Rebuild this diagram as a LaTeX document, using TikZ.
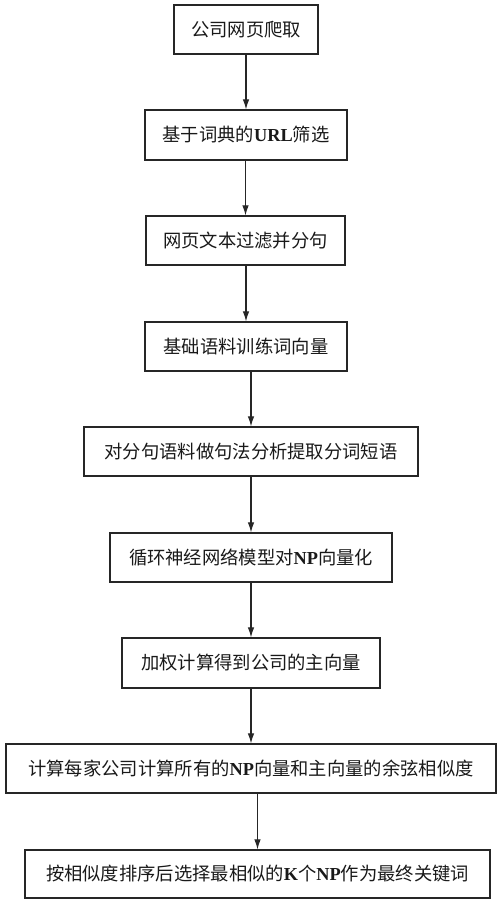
\documentclass[tikz,border=0pt]{standalone}
\usepackage{fontspec}
\setmainfont{Noto Sans CJK SC}
\newfontfamily\latn{Liberation Serif}
\usetikzlibrary{arrows.meta}
\begin{document}
\begin{tikzpicture}[x=1pt,y=-1pt,
  stepbox/.style={draw=black!85,line width=1.2pt,inner sep=0pt,font=\fontsize{18.3pt}{20pt}\selectfont,text=black!90},
  arr/.style={draw=black!85,line width=1.1pt,-{Latex[length=10pt,width=6.5pt]}}]
\useasboundingbox (0,0) rectangle (500,904);
\node[stepbox,minimum width=144pt,minimum height=49pt] (b1) at (246,29.5) {公司网页爬取};
\node[stepbox,minimum width=202pt,minimum height=50pt] (b2) at (246,135) {基于词典的{\latn\bfseries URL}筛选};
\node[stepbox,minimum width=199pt,minimum height=49pt] (b3) at (245.5,240.5) {网页文本过滤并分句};
\node[stepbox,minimum width=202pt,minimum height=49pt] (b4) at (246,346.5) {基础语料训练词向量};
\node[stepbox,minimum width=334pt,minimum height=49pt] (b5) at (251,451.5) {对分句语料做句法分析提取分词短语};
\node[stepbox,minimum width=282pt,minimum height=49pt] (b6) at (251,557.5) {循环神经网络模型对{\latn\bfseries NP}向量化};
\node[stepbox,minimum width=258pt,minimum height=50pt] (b7) at (251,663) {加权计算得到公司的主向量};
\node[stepbox,minimum width=490pt,minimum height=49pt] (b8) at (251,768.5) {计算每家公司计算所有的{\latn\bfseries NP}向量和主向量的余弦相似度};
\node[stepbox,minimum width=465pt,minimum height=48pt] (b9) at (257.5,874) {按相似度排序后选择最相似的{\latn\bfseries K}个{\latn\bfseries NP}作为最终关键词};
\draw[arr] (b1.south -| b2.north) -- (b2.north);
\draw[arr] (b2.south -| b3.north) -- (b3.north);
\draw[arr] (b3.south -| b4.north) -- (b4.north);
\draw[arr] (b4.south -| b5.north) -- (b5.north);
\draw[arr] (b5.south -| b6.north) -- (b6.north);
\draw[arr] (b6.south -| b7.north) -- (b7.north);
\draw[arr] (b7.south -| b8.north) -- (b8.north);
\draw[arr] (b8.south -| b9.north) -- (b9.north);
\end{tikzpicture}
\end{document}
